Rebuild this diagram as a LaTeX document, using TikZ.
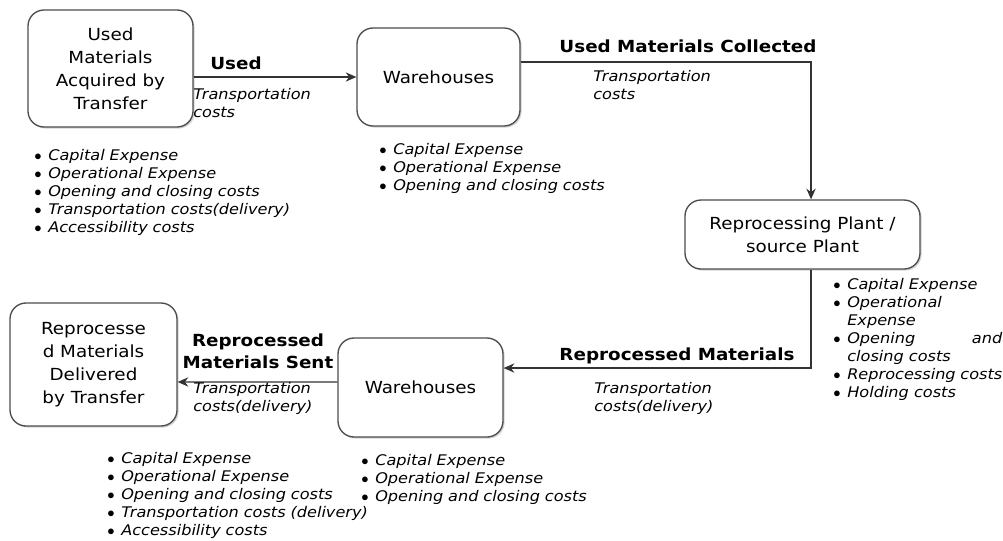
\documentclass[tikz,border=0pt]{standalone}
\usepackage{fontspec}
\setmainfont{DejaVu Sans}[FakeStretch=1.1]
\usepackage{enumitem}
\usetikzlibrary{
  arrows.meta,
  positioning,
  shadows
}
\newcommand{\costs}[1]{%
  \hyphenpenalty=10000 \exhyphenpenalty=10000
  \begin{itemize}[nosep, leftmargin=12pt, labelsep=5pt, label=$\bullet$]
    #1
  \end{itemize}}
\tikzset{
  stage/.style={
    draw=black!70, line width=1pt, rounded corners=12pt,
    fill=white, align=center,
    font=\fontsize{12.5}{17.25}\selectfont,
    drop shadow={shadow xshift=1.2pt, shadow yshift=-1.2pt, opacity=0.35}
  },
  flow/.style={
    -{Stealth[length=8pt,width=7pt]}, line width=0.9pt, draw=black!80
  },
  flow label/.style={
    font=\bfseries\fontsize{12.5}{16.5}\selectfont, align=center
  },
  cost note/.style={
    font=\itshape\fontsize{11}{13.5}\selectfont,
    align=left, anchor=north west, inner sep=0pt
  },
  cost list/.style={
    cost note, text width=#1
  },
}

\begin{document}
\begin{tikzpicture}[x=0.75pt, y=-0.75pt]
  \useasboundingbox (0,0) rectangle (1003,540);

  % Stages
  \node[stage, minimum width=123.75pt, minimum height=87.75pt]
    (acquired) at (110.5,68.5) {Used\\Materials\\Acquired by\\Transfer};
  \node[stage, minimum width=122.25pt, minimum height=73.5pt]
    (store1) at (438.5,77) {Warehouses};
  \node[stage, minimum width=176.25pt, minimum height=51.75pt]
    (plant) at (802.5,234.5) {Reprocessing Plant /\\source Plant};
  \node[stage, minimum width=123.75pt, minimum height=74.25pt]
    (store2) at (420.5,387.5) {Warehouses};
  \node[stage, minimum width=125.25pt, minimum height=92.25pt]
    (delivered) at (93.5,364.5) {Reprocesse\\d Materials\\Delivered\\by Transfer};

  % Flows
  \draw[flow] (acquired.east |- store1.west) -- (store1.west);
  \draw[flow] ([yshift=11.25pt]store1.east) -| ([xshift=6.4pt]plant.north);
  \draw[flow] ([xshift=6.4pt]plant.south) |- ([yshift=14.6pt]store2.east);
  \draw[flow] ([yshift=4.1pt]store2.west) -- ([yshift=-13.1pt]delivered.east);

  % Flow labels
  \node[flow label] (usedlbl) at (236,63) {Used};
  \node[flow label] (collectedlbl) at (688,46) {Used Materials Collected};
  \node[flow label] (reproclbl) at (677,356) {Reprocessed Materials};
  \node[flow label] (sentlbl) at (258,351) {Reprocessed\\Materials Sent};

  \node[cost note] (trans1) at (193,88) {Transportation\\costs};
  \node[cost note] (trans2) at (593,70) {Transportation\\costs};
  \node[cost note] (trans3) at (594,382) {Transportation\\costs(delivery)};
  \node[cost note] (trans4) at (193,382) {Transportation\\costs(delivery)};

  % Cost lists
  \node[cost list=220pt] (acqcosts) at (32,142) {\costs{
    \item Capital Expense
    \item Operational Expense
    \item Opening and closing costs
    \item Transportation costs(delivery)
    \item Accessibility costs}};
  \node[cost list=220pt] (store1costs) at (377,136) {\costs{
    \item Capital Expense
    \item Operational Expense
    \item Opening and closing costs}};
  \node[cost list=128.25pt, align=justify] (plantcosts) at (831,271) {\costs{
    \item Capital Expense
    \item Operational Expense
    \item Opening and closing costs
    \item Reprocessing costs
    \item Holding costs}};
  \node[cost list=220pt] (delcosts) at (105,445) {\costs{
    \item Capital Expense
    \item Operational Expense
    \item Opening and closing costs
    \item Transportation costs (delivery)
    \item Accessibility costs}};
  \node[cost list=220pt] (store2costs) at (359,447) {\costs{
    \item Capital Expense
    \item Operational Expense
    \item Opening and closing costs}};
\end{tikzpicture}
\end{document}
